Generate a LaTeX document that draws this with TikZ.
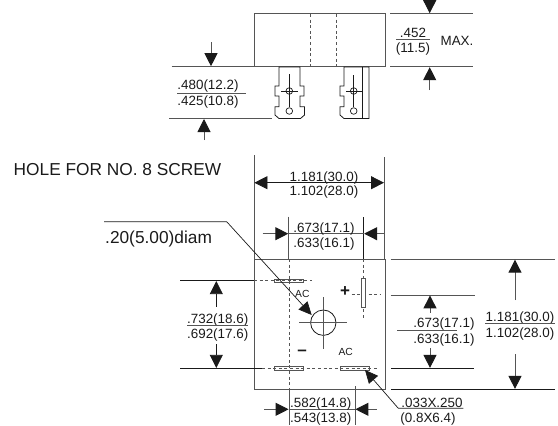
\documentclass[tikz,border=0pt]{standalone}
\usepackage{fontspec}
\setmainfont{Liberation Sans}
\usetikzlibrary{arrows.meta}
\definecolor{ink}{HTML}{1A1A1A}
\definecolor{gline}{HTML}{555555}
\tikzset{
  x=1pt,y=-1pt,
  dimtext/.style={font=\fontsize{13.4}{13.4}\selectfont,text=ink,inner sep=0pt,text height=9.6pt,text depth=0pt},
  bigtext/.style={font=\fontsize{17.3}{17.3}\selectfont,text=ink,inner sep=0pt,text height=12.4pt,text depth=0pt},
  smalltext/.style={font=\fontsize{10.3}{10.3}\selectfont,text=ink,inner sep=0pt,text height=7.4pt,text depth=0pt},
  signtext/.style={font=\bfseries\fontsize{17}{17}\selectfont,text=ink,inner sep=0pt},
  part/.style={draw=ink,line width=0.8pt},
  outline/.style={draw=gline,line width=1pt},
  ext/.style={draw=gline,line width=1pt},
  extdark/.style={draw=ink,line width=0.8pt},
  rulel/.style={draw=gline,line width=0.8pt},
  dimline/.style={draw=gline,line width=1pt,-{Triangle[length=13pt,width=13pt,color=ink]}},
  dimdark/.style={draw=ink,line width=0.8pt,-{Triangle[length=13pt,width=13pt,color=ink]}},
  lead/.style={draw=ink,line width=0.7pt,-{Triangle[length=13pt,width=12pt,color=ink]}},
  center/.style={draw=gline,line width=0.9pt,dash pattern=on 3pt off 2.6pt},
  slotbox/.style={draw=gline,line width=0.9pt,fill=white},
}
\begin{document}
\begin{tikzpicture}
\useasboundingbox (0,0) rectangle (558,426);
% ---------- side view
\draw[part,draw=gline,line width=1pt] (254.3,13.7) rectangle (385.7,66.7);
\coordinate (da) at (310.7,14); \coordinate (db) at (310.7,66);
\coordinate (dc) at (336,14); \coordinate (dd) at (336,66);
\draw[center] (da) -- (db); \draw[center] (dc) -- (dd);
% left terminal
\draw[part] (279,67) -- (279,86) -- (275,86) -- (275,96) -- (279,96) -- (279,106.7) -- (275,106.7) -- (275,115) -- (279,118.5) -- (300.5,118.5) -- (304.5,115) -- (304.5,106.7) -- (300,106.7) -- (300,96) -- (304,96) -- (304,86) -- (300,86) -- (300,67) -- cycle;
\node[circle,draw=ink,line width=.7pt,minimum size=6.6pt,inner sep=0pt] (h1) at (289.3,91) {};
\node[circle,draw=ink,line width=.7pt,minimum size=6.6pt,inner sep=0pt] (h2) at (289.3,111) {};
\coordinate (c1a) at (289.3,74); \coordinate (c1b) at (281,91); \coordinate (c1c) at (297.7,91);
\draw[part,line width=.7pt] (c1a) -- (h2.north); \draw[part,line width=.7pt] (c1b) -- (c1c);
% right terminal
\draw[part] (344,67) -- (344,86) -- (340,86) -- (340,96) -- (344,96) -- (344,106.7) -- (340,106.7) -- (340,115) -- (344,118.5) -- (369,118.5) -- (369,67) -- cycle;
\coordinate (t2a) at (362.3,67); \coordinate (t2b) at (362.3,118.5);
\draw[part] (t2a) -- (t2b);
\node[circle,draw=ink,line width=.7pt,minimum size=6.6pt,inner sep=0pt] (h3) at (353.7,91) {};
\node[circle,draw=ink,line width=.7pt,minimum size=6.6pt,inner sep=0pt] (h4) at (353.7,111) {};
\coordinate (c2a) at (353.7,75); \coordinate (c2b) at (346,91); \coordinate (c2c) at (362,91);
\draw[part,line width=.7pt] (c2a) -- (h4.north); \draw[part,line width=.7pt] (c2b) -- (c2c);
% .480 dim
\coordinate (e1a) at (171.7,66.7); \coordinate (e1b) at (254,66.7);
\coordinate (e2a) at (169,118.3); \coordinate (e2b) at (272,118.3);
\draw[ext] (e1a) -- (e1b); \draw[ext] (e2a) -- (e2b);
\coordinate (a1a) at (211,42); \coordinate (a1b) at (211,66.2);
\coordinate (a2a) at (204,140); \coordinate (a2b) at (204,119);
\draw[dimline] (a1a) -- (a1b); \draw[dimline] (a2a) -- (a2b);
\node[dimtext] (t480) at (208,85) {.480(12.2)};
\node[dimtext] (t425) at (208,100.5) {.425(10.8)};
\coordinate (r1a) at (177,93.3); \coordinate (r1b) at (246,93.3);
\draw[rulel] (r1a) -- (r1b);
% .452 dim
\coordinate (e3a) at (390,13.7); \coordinate (e3b) at (473,13.7);
\coordinate (e4a) at (390,66.7); \coordinate (e4b) at (473,66.7);
\draw[ext] (e3a) -- (e3b); \draw[ext] (e4a) -- (e4b);
\coordinate (a3a) at (429.7,-5); \coordinate (a3b) at (429.7,13.2);
\coordinate (a4a) at (429.7,90); \coordinate (a4b) at (429.7,67.2);
\draw[dimline] (a3a) -- (a3b); \draw[dimline] (a4a) -- (a4b);
\node[dimtext] (t452) at (413,32.5) {.452};
\node[dimtext] (t115) at (413,48) {(11.5)};
\coordinate (r2a) at (396,39.2); \coordinate (r2b) at (430,39.2);
\draw[rulel] (r2a) -- (r2b);
\node[dimtext] (tmax) at (457,40.5) {MAX.};
% ---------- texts
\node[bigtext,anchor=west] (thole) at (13.5,169) {HOLE FOR NO. 8 SCREW};
\node[bigtext,anchor=west] (tdiam) at (105,237) {.20(5.00)diam};
% ---------- bottom view
\draw[part,draw=gline,line width=1pt] (254,259.3) rectangle (385.7,389.3);
% 1.181 horiz
\coordinate (v1a) at (254,155); \coordinate (v1b) at (254,259);
\coordinate (v2a) at (384.3,157); \coordinate (v2b) at (384.3,259);
\draw[ext] (v1a) -- (v1b); \draw[ext] (v2a) -- (v2b);
\coordinate (hm) at (320,182.7);
\coordinate (hl) at (254.4,182.7); \coordinate (hr) at (384,182.7);
\draw[dimdark] (hm) -- (hl); \draw[dimdark] (hm) -- (hr);
\node[dimtext] (th1) at (324,177) {1.181(30.0)};
\node[dimtext] (th2) at (324,191) {1.102(28.0)};
% .673 horiz
\coordinate (v3a) at (288.7,216.7); \coordinate (v3b) at (288.7,259);
\coordinate (v4a) at (363.7,217); \coordinate (v4b) at (363.7,259);
\draw[ext] (v3a) -- (v3b); \draw[extdark] (v4a) -- (v4b);
\coordinate (h2a) at (262.7,233.7); \coordinate (h2b) at (288.3,233.7);
\coordinate (h2c) at (384,233.7); \coordinate (h2d) at (364.1,233.7);
\draw[dimline] (h2a) -- (h2b); \draw[dimline] (h2c) -- (h2d);
\draw[rulel] (h2b) -- (h2d);
\node[dimtext] (t6a) at (324,227.5) {.673(17.1)};
\node[dimtext] (t6b) at (324,243) {.633(16.1)};
% slots
\coordinate (cva) at (289,259); \coordinate (cvb) at (289,389);
\coordinate (cpa) at (363.5,259); \coordinate (cpb) at (363.5,320);
\coordinate (cpc) at (351.7,294.7); \coordinate (cpd) at (380,294.7);
\coordinate (cta) at (254,280.7); \coordinate (ctb) at (312,280.7);
\coordinate (cba) at (262,368.3); \coordinate (cbb) at (378,368.3);
\draw[slotbox] (274.7,279) rectangle (303.7,282.4);
\draw[slotbox] (274.7,366.6) rectangle (303.7,370);
\draw[slotbox] (340.3,366.6) rectangle (369.3,370);
\draw[center] (cva) -- (cvb);
\draw[center] (cpa) -- (cpb);
\draw[center] (cpc) -- (cpd);
\draw[center] (cta) -- (ctb);
\draw[center] (cba) -- (cbb);
\draw[slotbox] (361.7,278.3) rectangle (365.3,307.7);
% centre hole
\node[circle,draw=ink,line width=.8pt,minimum size=25.4pt,inner sep=0pt] (hole) at (323.3,322.7) {};
\coordinate (ca) at (299.3,322.7); \coordinate (cb) at (347.3,322.7);
\coordinate (cc) at (323.3,297.3); \coordinate (cd) at (323.3,349.3);
\draw[rulel] (ca) -- (cb); \draw[rulel] (cc) -- (cd);
% labels
\node[smalltext] (ac1) at (302.3,294) {AC};
\node[smalltext] (ac2) at (345.7,352) {AC};
\node[signtext] (plus) at (345,292) {+};
\node[signtext] (minus) at (302,353) {\char"2013};
% leader to hole
\coordinate (l1a) at (104,221.7); \coordinate (l1b) at (226.7,221.7); \coordinate (l1c) at (311.7,315);
\draw[lead] (l1a) -- (l1b) -- (l1c);
% left .732
\coordinate (e5a) at (180,280.7); \coordinate (e5b) at (254,280.7);
\coordinate (e6a) at (180,368.3); \coordinate (e6b) at (262,368.3);
\draw[extdark] (e5a) -- (e5b); \draw[extdark] (e6a) -- (e6b);
\coordinate (a5a) at (216.3,306.7); \coordinate (a5b) at (216.3,281.1);
\coordinate (a6a) at (216.3,344); \coordinate (a6b) at (216.3,367.9);
\draw[dimdark] (a5a) -- (a5b); \draw[dimdark] (a6a) -- (a6b);
\node[dimtext] (t7a) at (217.7,318.5) {.732(18.6)};
\node[dimtext] (t7b) at (217.7,333.5) {.692(17.6)};
\coordinate (r3a) at (187,325.3); \coordinate (r3b) at (248,325.3);
\draw[rulel] (r3a) -- (r3b);
% bottom .582
\coordinate (v5a) at (289,389); \coordinate (v5b) at (289,425);
\coordinate (v6a) at (355,386); \coordinate (v6b) at (355,425);
\draw[ext] (v5a) -- (v5b); \draw[ext] (v6a) -- (v6b);
\coordinate (b1a) at (264.3,409.3); \coordinate (b1b) at (288.6,409.3);
\coordinate (b2a) at (376.7,409.3); \coordinate (b2b) at (355.4,409.3);
\draw[dimline] (b1a) -- (b1b); \draw[dimline] (b2a) -- (b2b);
\draw[rulel] (b1b) -- (b2b);
\node[dimtext] (t5a) at (320.7,403) {.582(14.8)};
\node[dimtext] (t5b) at (320.7,417.5) {.543(13.8)};
% leader to slot
\coordinate (l2a) at (463.3,408.3); \coordinate (l2b) at (398.3,408.3); \coordinate (l2c) at (365,370);
\draw[lead] (l2a) -- (l2b) -- (l2c);
\node[dimtext] (t0a) at (432,403) {.033X.250};
\node[dimtext] (t0b) at (428,418) {(0.8X6.4)};
% right dims
\coordinate (e7a) at (390.7,259.3); \coordinate (e7b) at (555,259.3);
\coordinate (e8a) at (390.7,295); \coordinate (e8b) at (475,295);
\coordinate (e9a) at (391,368.3); \coordinate (e9b) at (474,368.3);
\coordinate (e10a) at (391,389.3); \coordinate (e10b) at (555,389.3);
\draw[ext] (e7a) -- (e7b); \draw[ext] (e8a) -- (e8b); \draw[extdark] (e9a) -- (e9b); \draw[extdark] (e10a) -- (e10b);
\coordinate (a7a) at (430,312.7); \coordinate (a7b) at (430,295.4);
\coordinate (a8a) at (430,348.3); \coordinate (a8b) at (430,367.9);
\draw[dimline] (a7a) -- (a7b); \draw[dimline] (a8a) -- (a8b);
\node[dimtext] (t8a) at (444,323) {.673(17.1)};
\node[dimtext] (t8b) at (444,338.3) {.633(16.1)};
\coordinate (r4a) at (397,330); \coordinate (r4b) at (457,330);
\draw[rulel] (r4a) -- (r4b);
\coordinate (a9a) at (515,300); \coordinate (a9b) at (515,259.7);
\coordinate (a10a) at (515,354); \coordinate (a10b) at (515,388.9);
\draw[dimline] (a9a) -- (a9b); \draw[dimline] (a10a) -- (a10b);
\node[dimtext] (t9a) at (520,316.5) {1.181(30.0)};
\node[dimtext] (t9b) at (520,332.5) {1.102(28.0)};
\coordinate (r5a) at (485,323.3); \coordinate (r5b) at (555,323.3);
\draw[rulel] (r5a) -- (r5b);
\end{tikzpicture}
\end{document}
